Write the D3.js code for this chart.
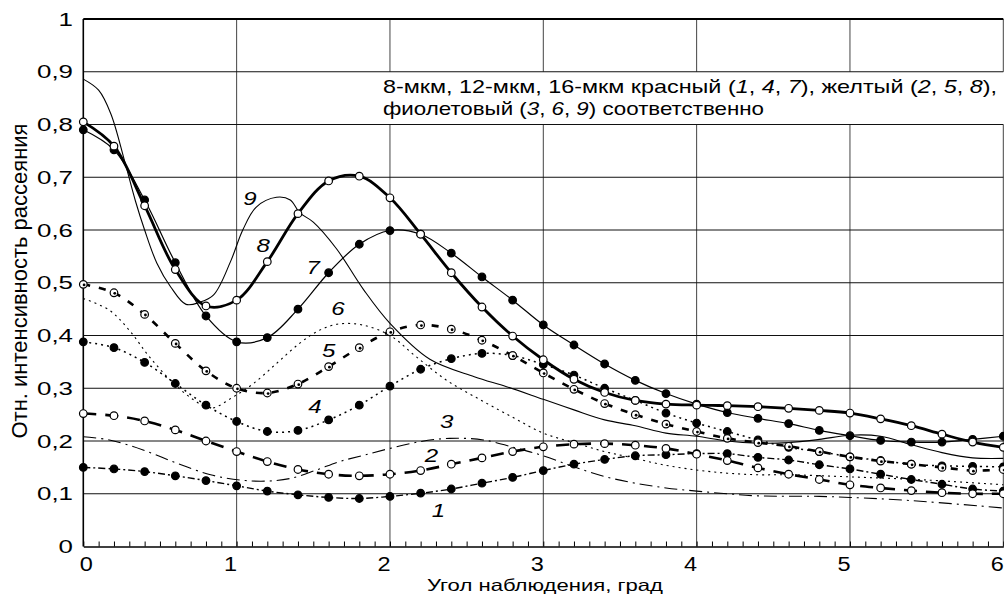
<!DOCTYPE html>
<html>
<head>
<meta charset="utf-8">
<script src="https://cdn.jsdelivr.net/npm/d3@7"></script>
<style>
body { margin:0; background:#fff; }
svg { display:block; }
text { font-family:"Liberation Sans", Arial, sans-serif; fill:#000; }
</style>
</head>
<body>
<svg id="chart"></svg>
<script>
var screen = {width:1004,height:597}
var margins = {top:19,left:83.3,right:0.7,bottom:50.5}

// x grid of the marked curves: 0, 0.2 ... 6
var angles = d3.range(31).map(function(i){return i/5})

var red8 = [0.150,0.147,0.142,0.134,0.125,0.115,0.105,0.098,0.093,0.091,0.095,0.101,0.109,0.120,0.131,0.144,0.156,0.165,0.172,0.174,0.176,0.176,0.169,0.164,0.155,0.147,0.137,0.127,0.118,0.109,0.105]
var yellow8 = [0.252,0.248,0.238,0.221,0.200,0.180,0.161,0.146,0.137,0.134,0.137,0.144,0.156,0.168,0.180,0.189,0.194,0.195,0.192,0.186,0.175,0.163,0.149,0.137,0.127,0.117,0.111,0.106,0.102,0.100,0.100]
var red12 = [0.388,0.377,0.349,0.309,0.268,0.237,0.218,0.220,0.240,0.268,0.304,0.336,0.356,0.366,0.362,0.345,0.325,0.300,0.277,0.253,0.234,0.218,0.202,0.188,0.180,0.170,0.163,0.156,0.153,0.152,0.151]
var yellow12 = [0.497,0.481,0.440,0.385,0.333,0.300,0.291,0.308,0.341,0.377,0.407,0.420,0.412,0.391,0.362,0.329,0.298,0.271,0.250,0.232,0.218,0.205,0.197,0.190,0.180,0.170,0.162,0.156,0.150,0.144,0.146]
var red16 = [0.790,0.752,0.657,0.538,0.437,0.388,0.396,0.450,0.519,0.573,0.599,0.592,0.556,0.511,0.467,0.420,0.382,0.346,0.315,0.290,0.270,0.254,0.243,0.233,0.220,0.210,0.201,0.198,0.198,0.203,0.209]
var yellow16 = [0.805,0.759,0.646,0.525,0.456,0.467,0.540,0.631,0.693,0.702,0.661,0.592,0.519,0.454,0.399,0.354,0.317,0.292,0.277,0.270,0.268,0.267,0.265,0.262,0.258,0.253,0.242,0.229,0.213,0.198,0.188]

// violet curves have no markers, read as [angle, value]
var violet8 = [[0,0.208],[0.17,0.202],[0.39,0.183],[0.61,0.158],[0.83,0.136],[1.02,0.126],[1.2,0.124],[1.35,0.129],[1.52,0.145],[1.67,0.161],[1.83,0.173],[2.0,0.186],[2.2,0.199],[2.39,0.205],[2.61,0.202],[2.83,0.186],[3.0,0.172],[3.2,0.151],[3.41,0.132],[3.6,0.12],[3.8,0.111],[4.0,0.105],[4.2,0.1],[4.4,0.096],[4.8,0.095],[5.0,0.093],[5.4,0.087],[6.0,0.073]]
var violet12 = [[0,0.47],[0.17,0.448],[0.3,0.41],[0.43,0.36],[0.59,0.309],[0.72,0.278],[0.83,0.262],[0.98,0.284],[1.11,0.309],[1.26,0.347],[1.41,0.385],[1.54,0.41],[1.67,0.422],[1.82,0.42],[2.0,0.40],[2.17,0.36],[2.37,0.315],[2.59,0.278],[2.8,0.245],[3.0,0.215],[3.21,0.196],[3.4,0.18],[3.57,0.169],[3.78,0.155],[4.0,0.145],[4.2,0.139],[4.4,0.136],[4.6,0.136],[5.0,0.132],[5.5,0.126],[6.0,0.117]]
var violet16 = [[0,0.886],[0.1,0.865],[0.18,0.82],[0.27,0.73],[0.34,0.655],[0.4,0.6],[0.48,0.537],[0.57,0.492],[0.67,0.459],[0.76,0.463],[0.85,0.477],[0.96,0.54],[1.04,0.6],[1.13,0.644],[1.26,0.662],[1.35,0.657],[1.41,0.633],[1.5,0.615],[1.65,0.565],[1.83,0.486],[2.0,0.423],[2.26,0.355],[2.55,0.322],[2.76,0.303],[3.0,0.279],[3.2,0.259],[3.4,0.24],[3.6,0.229],[3.8,0.215],[4.0,0.209],[4.2,0.2],[4.4,0.196],[4.6,0.197],[4.8,0.203],[5.0,0.211],[5.2,0.209],[5.4,0.193],[5.6,0.178],[5.8,0.168],[6.0,0.167]]

var curveNames = ["1","2","3","4","5","6","7","8","9"]
var labelAt = [[2.316,0.069],[2.27,0.1735],[2.37,0.2366],[1.51,0.265],[1.6,0.3725],[1.66,0.452],[1.5,0.53],[1.174,0.5716],[1.087,0.66]]

var xTicks = [0,1,2,3,4,5,6]
var yTicks = [0,0.1,0.2,0.3,0.4,0.5,0.6,0.7,0.8,0.9,1]
var xTitle = "Угол наблюдения, град"
var yTitle = "Отн. интенсивность рассеяния"
var legendLines = [
  [["8-мкм, 12-мкм, 16-мкм красный (",0],["1",1],[", ",0],["4",1],[", ",0],["7",1],["), желтый (",0],["2",1],[", ",0],["5",1],[", ",0],["8",1],["),",0]],
  [["фиолетовый (",0],["3",1],[", ",0],["6",1],[", ",0],["9",1],[") соответственно",0]]
]

var pairUp = function(values)
{
    return values.map(function(v,i){return [angles[i],v]})
}

var series = [
  {pts:pairUp(red8), width:1.4, dash:"7,3,2,3", mark:"fill"},
  {pts:pairUp(yellow8), width:2.6, dash:"13,9", mark:"open"},
  {pts:violet8, width:1.1, dash:"13,5,2,5", mark:"none"},
  {pts:pairUp(red12), width:1.5, dash:"2,4", mark:"fill"},
  {pts:pairUp(yellow12), width:2.6, dash:"7,9", mark:"dot"},
  {pts:violet12, width:1.1, dash:"2,4", mark:"none"},
  {pts:pairUp(red16), width:1.2, dash:null, mark:"fill"},
  {pts:pairUp(yellow16), width:2.8, dash:null, mark:"open"},
  {pts:violet16, width:1.1, dash:null, mark:"none"}
]

var svg = d3.select("#chart")
            .attr("width",screen.width)
            .attr("height",screen.height)

var width = screen.width - margins.left - margins.right
var height = screen.height - margins.top - margins.bottom

var xScale = d3.scaleLinear().domain([0,6]).range([margins.left,margins.left+width])
var yScale = d3.scaleLinear().domain([0,1]).range([margins.top+height,margins.top])

// vertical grid
svg.append("g")
   .selectAll("line")
   .data(xTicks.slice(1))
   .enter()
   .append("line")
   .attr("x1",function(d){return xScale(d)})
   .attr("x2",function(d){return xScale(d)})
   .attr("y1",yScale(1))
   .attr("y2",yScale(0))
   .attr("stroke","#444")
   .attr("stroke-width",1)

// white box behind the note
svg.append("rect")
   .attr("x",378)
   .attr("y",yScale(0.9))
   .attr("width",screen.width-378)
   .attr("height",yScale(0.8)-yScale(0.9))
   .attr("fill","#fff")

// horizontal grid
svg.append("g")
   .selectAll("line")
   .data(yTicks.slice(1,10))
   .enter()
   .append("line")
   .attr("x1",xScale(0))
   .attr("x2",xScale(6))
   .attr("y1",function(d){return yScale(d)})
   .attr("y2",function(d){return yScale(d)})
   .attr("stroke","#111")
   .attr("stroke-width",1)

// frame
svg.append("line").attr("x1",xScale(0)).attr("x2",xScale(6)).attr("y1",yScale(1)).attr("y2",yScale(1))
   .attr("stroke","#000").attr("stroke-width",2)
svg.append("line").attr("x1",xScale(0)).attr("x2",xScale(0)).attr("y1",yScale(1)).attr("y2",yScale(0))
   .attr("stroke","#000").attr("stroke-width",1.6)

var xAxis = d3.axisBottom(xScale)
              .tickValues(d3.range(61).map(function(i){return i/10}))
              .tickSizeInner(-5)
              .tickSizeOuter(0)
              .tickFormat("")
svg.append("g")
   .attr("transform","translate(0,"+yScale(0)+")")
   .call(xAxis)
   .call(function(g){
       g.select(".domain").attr("stroke","#000").attr("stroke-width",1.6)
       g.selectAll(".tick line").attr("stroke","#000").attr("stroke-width",1)
   })

// tick labels
svg.append("g")
   .selectAll("text")
   .data(xTicks)
   .enter()
   .append("text")
   .attr("transform",function(d){return "translate("+(xScale(d)+(d===0?3:-6))+",571) scale(1.12,1)"})
   .attr("text-anchor","middle")
   .attr("font-size",21)
   .text(function(d){return d})

svg.append("g")
   .selectAll("text")
   .data(yTicks)
   .enter()
   .append("text")
   .attr("transform",function(d){return "translate(73,"+yScale(d)+") scale(1.4,1)"})
   .attr("text-anchor","end")
   .attr("dy","0.36em")
   .attr("font-size",18.5)
   .text(function(d){return d3.format(".1~f")(d).replace(".",",")})

// axis titles
svg.append("text")
   .attr("x",427)
   .attr("y",591)
   .attr("font-size",16.5)
   .attr("textLength",236)
   .attr("lengthAdjust","spacingAndGlyphs")
   .text(xTitle)

svg.append("text")
   .attr("transform","translate(27,281) scale(1.35,1) rotate(-90)")
   .attr("text-anchor","middle")
   .attr("font-size",17)
   .attr("textLength",315)
   .attr("lengthAdjust","spacingAndGlyphs")
   .text(yTitle)

// note
var note = svg.append("g")
note.selectAll("text")
    .data(legendLines)
    .enter()
    .append("text")
    .attr("x",383)
    .attr("y",function(d,i){return i===0?93.3:115})
    .attr("font-size",18.5)
    .attr("textLength",function(d,i){return i===0?614:381})
    .attr("lengthAdjust","spacingAndGlyphs")
    .each(function(parts){
        var t = d3.select(this)
        parts.forEach(function(p){
            t.append("tspan").attr("font-style",p[1]?"italic":"normal").text(p[0])
        })
    })

// curves
var line = d3.line()
             .x(function(p){return xScale(p[0])})
             .y(function(p){return yScale(p[1])})
             .curve(d3.curveCatmullRom.alpha(0.5))

svg.append("g")
   .selectAll("path")
   .data(series)
   .enter()
   .append("path")
   .attr("d",function(s){return line(s.pts)})
   .attr("fill","none")
   .attr("stroke","#000")
   .attr("stroke-width",function(s){return s.width})
   .attr("stroke-dasharray",function(s){return s.dash})

// markers
series.forEach(function(s)
{
    if (s.mark==="none") return
    var g = svg.append("g")
    g.selectAll("circle")
     .data(s.pts)
     .enter()
     .append("circle")
     .attr("cx",function(p){return xScale(p[0])})
     .attr("cy",function(p){return yScale(p[1])})
     .attr("r",3.8)
     .attr("fill",s.mark==="fill"?"#000":"#fff")
     .attr("stroke","#000")
     .attr("stroke-width",1.2)
    if (s.mark==="dot")
    {
        g.selectAll("circle.in")
         .data(s.pts)
         .enter()
         .append("circle")
         .attr("class","in")
         .attr("cx",function(p){return xScale(p[0])+0.8})
         .attr("cy",function(p){return yScale(p[1])+0.6})
         .attr("r",1.4)
         .attr("fill","#000")
    }
})

// curve numbers
svg.append("g")
   .selectAll("text")
   .data(curveNames)
   .enter()
   .append("text")
   .attr("transform",function(d,i){return "translate("+xScale(labelAt[i][0])+","+yScale(labelAt[i][1])+") scale(1.3,1)"})
   .attr("text-anchor","middle")
   .attr("dy","0.36em")
   .attr("font-size",18.5)
   .attr("font-style","italic")
   .text(function(d){return d})
</script>
</body>
</html>
